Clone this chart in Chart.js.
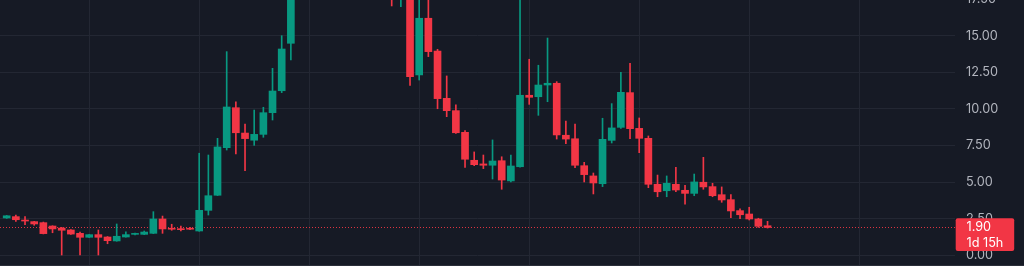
<!DOCTYPE html>
<html><head><meta charset="utf-8">
<script src="https://cdn.jsdelivr.net/npm/chart.js@4"></script>
<style>
html,body{margin:0;padding:0;background:#161a25;overflow:hidden;width:1024px;height:266px}
#wrap{position:absolute;left:0;top:-10px;width:1024px;height:276px}
</style></head>
<body><div id="wrap"><canvas id="c" width="1024" height="276"></canvas></div>
<script>
// candle index (one per day)
const days = [0,1,2,3,4,5,6,7,8,9,10,11,12,13,14,15,16,17,18,19,20,21,22,23,24,25,26,27,28,29,30,31,32,33,34,35,36,37,38,39,40,41,42,43,44,45,46,47,48,49,50,51,52,53,54,55,56,57,58,59,60,61,62,63,64,65,66,67,68,69,70,71,72,73,74,75,76,77,78,79,80,81,82,83];
const openP  = [2.55,2.64,2.38,2.30,2.23,2.00,1.86,1.73,1.50,1.23,1.41,1.25,0.98,1.25,1.43,1.43,1.50,2.48,1.84,1.80,1.82,1.66,3.07,4.10,7.35,10.08,8.35,7.86,8.26,9.74,11.24,14.48,19.8,24.6,22.8,26.4,31.2,27.5,23.4,24.9,21.2,19.1,20.5,18.4,20.8,12.32,16.19,13.95,10.72,9.88,8.40,6.49,6.24,6.15,6.46,5.08,6.05,10.93,10.83,11.63,11.75,8.20,7.96,6.12,5.42,4.89,7.85,8.74,11.11,8.67,7.99,4.85,4.41,4.85,4.44,4.23,4.99,4.69,4.14,3.80,3.05,2.82,2.48,2.02];
const highP  = [2.72,2.75,2.64,2.32,2.27,2.02,1.91,1.76,1.59,1.43,1.73,1.28,2.14,1.61,1.52,1.66,2.98,2.68,2.12,2.00,1.91,6.97,6.85,7.99,13.91,10.49,8.97,9.92,10.11,12.77,15.00,20.5,25.5,29.0,27.3,33.0,34.5,29.0,26.0,25.8,23.5,21.9,21.7,22.0,21.3,18.6,18.1,14.07,12.25,10.27,8.51,7.06,6.85,7.88,6.73,6.85,17.6,13.39,12.98,14.84,11.86,9.17,8.97,6.35,5.62,9.36,10.36,12.50,13.11,9.38,8.15,5.48,5.42,6.01,4.78,5.55,6.69,4.92,4.67,4.14,3.18,3.28,2.53,2.32];
const lowP   = [2.52,2.32,2.09,2.05,1.46,1.54,0.02,1.43,0.00,1.21,0.02,0.79,0.96,1.23,1.39,1.41,1.48,1.50,1.71,1.66,1.75,1.64,2.75,4.08,7.19,6.92,5.78,7.51,8.06,9.24,11.11,13.34,18.9,21.5,21.0,25.0,26.0,22.0,19.5,20.0,18.2,17.8,17.03,16.98,11.61,11.97,13.57,10.01,9.47,8.33,6.01,6.12,5.92,5.21,4.51,5.01,6.02,10.31,9.56,10.49,7.94,7.62,5.98,5.01,4.19,4.69,7.67,8.67,7.96,7.01,4.62,4.00,4.00,4.34,3.50,4.07,4.51,4.00,3.62,2.57,2.50,2.41,1.91,1.86];
const closeP = [2.70,2.43,2.34,2.14,1.48,1.80,1.71,1.45,1.23,1.41,1.23,1.00,1.30,1.41,1.48,1.59,2.48,1.80,1.78,1.75,1.78,3.07,4.07,7.40,10.13,8.37,7.97,8.26,9.74,11.22,14.09,19.8,24.6,22.8,26.4,31.2,27.5,23.4,24.9,21.2,19.1,20.5,18.4,20.8,12.20,16.19,13.91,10.70,9.88,8.37,6.56,6.19,6.15,6.44,5.14,6.10,10.93,10.79,11.63,11.75,8.22,7.94,6.15,5.51,4.94,7.92,8.70,11.13,8.65,7.99,4.85,4.34,4.92,4.46,4.23,5.01,4.67,4.07,3.78,3.03,2.77,2.48,1.98,1.90];
const yTickStep = 2.5;
const lastPrice = 1.90;
const lastLabel = ["1.90", "1d 15h"];
const xGridDays = [9,21,33,45,57,69,81,93];

const UP = '#089981', DOWN = '#f23645';
const FONT = 'Inter, "DejaVu Sans", sans-serif';
const cols = days.map((d,i)=> closeP[i] >= openP[i] ? UP : DOWN);

const priceLine = {
  id:'priceLine',
  beforeDatasetsDraw(chart){
    const {ctx, chartArea, scales} = chart;
    const y = Math.round(scales.y.getPixelForValue(lastPrice)) + 0.5;
    ctx.save();
    ctx.strokeStyle = 'rgba(242,54,69,0.9)';
    ctx.lineWidth = 1;
    ctx.setLineDash([1,2]);
    ctx.beginPath(); ctx.moveTo(chartArea.left, y); ctx.lineTo(chartArea.right, y); ctx.stroke();
    ctx.restore();
  },
  afterDraw(chart){
    const {ctx, chartArea, scales} = chart;
    const y = scales.y.getPixelForValue(lastPrice);
    ctx.save();
    ctx.strokeStyle = '#2a2e39'; ctx.lineWidth = 1;
    ctx.beginPath(); ctx.moveTo(0, chart.height - 0.5); ctx.lineTo(chart.width, chart.height - 0.5); ctx.stroke();
    const x0 = chartArea.right + 0.7, w = 58.5, top = y - 9.2, h = 32.7;
    ctx.fillStyle = DOWN;
    ctx.beginPath();
    ctx.roundRect(x0, top, w, h, 2);
    ctx.fill();
    ctx.fillStyle = '#ffffff';
    ctx.font = '12.7px ' + FONT;
    ctx.textBaseline = 'middle'; ctx.textAlign = 'left';
    ctx.fillText(lastLabel[0], chartArea.right + 11.5, y - 0.3);
    ctx.fillText(lastLabel[1], chartArea.right + 11.5, y + 15.5);
    ctx.restore();
  }
};

new Chart(document.getElementById('c'), {
  type:'bar',
  data:{
    datasets:[
      { label:'body', data: days.map((d,i)=>({x:d, y:[openP[i], closeP[i]]})),
        backgroundColor: cols, barThickness:7, minBarLength:1, grouped:false, borderWidth:0, order:0 },
      { label:'wick', data: days.map((d,i)=>({x:d, y:[lowP[i], highP[i]]})),
        backgroundColor: cols, barThickness:1, grouped:false, borderWidth:0, order:1 }
    ]
  },
  options:{
    responsive:false, animation:false, devicePixelRatio:1,
    layout:{padding:0},
    plugins:{legend:{display:false}, tooltip:{enabled:false}},
    scales:{
      x:{ type:'linear', min:-0.73, max:103.45, offset:false,
          afterBuildTicks(s){ s.ticks = xGridDays.map(v=>({value:v})); },
          afterFit(s){ s.height = 0; s.paddingLeft = 0; s.paddingRight = 0; s.paddingTop = 0; s.paddingBottom = 0; },
          ticks:{display:false}, border:{display:false},
          grid:{color:'#232733', drawTicks:false, offset:false} },
      y:{ position:'right', min:-0.731, max:18.12,
          afterFit(s){ s.width = 69; s.paddingTop = 0; s.paddingBottom = 0; },
          border:{display:false},
          grid:{color:'#232733', drawTicks:false},
          ticks:{ stepSize:yTickStep, includeBounds:false, padding:11, color:'#b2b5be',
                  font:{size:12.7, family:FONT},
                  callback:v=>Number(v).toFixed(2) } }
    }
  },
  plugins:[priceLine]
});
</script>
</body></html>
